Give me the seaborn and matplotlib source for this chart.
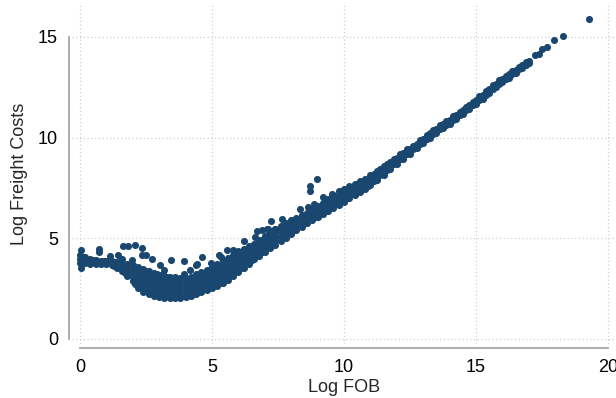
import matplotlib
matplotlib.use("Agg")
import matplotlib.pyplot as plt
import seaborn as sns
import pandas as pd

# ---- data (dense band as columns of points) ----
band_fob = [0.0, 0.2, 0.4, 0.6, 0.8, 1.0, 1.2, 1.4, 1.6, 1.8,
            2.0, 2.2, 2.4, 2.6, 2.8, 3.0, 3.2, 3.4, 3.6, 3.8,
            4.0, 4.2, 4.4, 4.6, 4.8, 5.0, 5.2, 5.4, 5.6, 5.8,
            6.0, 6.2, 6.4, 6.6, 6.8, 7.0, 7.2, 7.4, 7.6, 7.8,
            8.0, 8.2, 8.4, 8.6, 8.8, 9.0, 9.2, 9.4, 9.6, 9.8,
            10.0, 10.2, 10.4, 10.6, 10.8, 11.0, 11.25, 11.5, 11.75, 12.0,
            12.25, 12.5, 12.75, 13.0, 13.25, 13.5, 13.75, 14.0, 14.25, 14.5,
            14.75, 15.0, 15.25, 15.5, 15.75, 16.0, 16.25, 16.5, 16.75, 17.0]

band_freight = [
    [3.75, 3.95, 4.15], [3.75, 3.9, 4.05], [3.73, 3.85, 3.97], [3.72, 3.9], [3.71, 3.88],
    [3.7, 3.85], [3.65, 3.84], [3.5, 3.66, 3.82], [3.35, 3.55, 3.78], [3.1, 3.3, 3.5, 3.72],
    [2.85, 3.05, 3.25, 3.45, 3.65], [2.5, 2.7, 2.9, 3.1, 3.3, 3.55],
    [2.3, 2.5, 2.7, 2.9, 3.1, 3.3, 3.45], [2.2, 2.4, 2.6, 2.8, 3.0, 3.2, 3.35],
    [2.1, 2.3, 2.5, 2.7, 2.9, 3.1, 3.27], [2.07, 2.27, 2.47, 2.67, 2.87, 3.05, 3.15],
    [2.04, 2.24, 2.44, 2.64, 2.84, 3.0, 3.1], [2.0, 2.2, 2.4, 2.6, 2.8, 2.95, 3.07],
    [2.0, 2.2, 2.4, 2.6, 2.8, 3.05], [2.02, 2.22, 2.42, 2.62, 2.82, 3.02],
    [2.05, 2.25, 2.45, 2.65, 2.85, 3.0], [2.1, 2.3, 2.5, 2.7, 2.9, 3.08],
    [2.2, 2.4, 2.6, 2.8, 3.0, 3.2], [2.3, 2.5, 2.7, 2.9, 3.1, 3.3],
    [2.4, 2.6, 2.8, 3.0, 3.2, 3.42], [2.5, 2.7, 2.9, 3.1, 3.3, 3.55],
    [2.62, 2.82, 3.02, 3.22, 3.42, 3.7], [2.75, 2.95, 3.15, 3.35, 3.55, 3.85],
    [2.93, 3.13, 3.33, 3.53, 3.73, 4.0], [3.12, 3.32, 3.52, 3.72, 3.92, 4.18],
    [3.3, 3.5, 3.7, 3.9, 4.1, 4.35], [3.5, 3.7, 3.9, 4.1, 4.3, 4.45],
    [3.72, 3.92, 4.12, 4.32, 4.58], [3.95, 4.15, 4.35, 4.55, 4.7],
    [4.12, 4.32, 4.52, 4.72, 4.9], [4.3, 4.5, 4.7, 4.9, 5.08],
    [4.48, 4.68, 4.88, 5.08, 5.27], [4.65, 4.85, 5.05, 5.25, 5.45],
    [4.83, 5.03, 5.23, 5.43, 5.6], [5.02, 5.22, 5.42, 5.6, 5.75],
    [5.2, 5.4, 5.6, 5.75, 5.9], [5.38, 5.58, 5.78, 6.02],
    [5.55, 5.75, 5.95, 6.13], [5.73, 5.92, 6.1, 6.25],
    [5.88, 6.06, 6.24, 6.42], [6.05, 6.23, 6.41, 6.58],
    [6.2, 6.38, 6.56, 6.75], [6.35, 6.55, 6.75, 6.95],
    [6.5, 6.7, 6.9, 7.15], [6.65, 6.85, 7.05, 7.35],
    [6.8, 7.0, 7.2, 7.45], [6.97, 7.17, 7.37, 7.58],
    [7.13, 7.33, 7.52, 7.7], [7.3, 7.48, 7.65, 7.82],
    [7.45, 7.62, 7.78, 7.95], [7.65, 7.8, 7.97, 8.13],
    [7.9, 8.05, 8.2, 8.35], [8.15, 8.29, 8.43, 8.57],
    [8.42, 8.61, 8.8], [8.7, 8.85, 9.0],
    [8.95, 9.08, 9.22], [9.2, 9.33, 9.45],
    [9.47, 9.7], [9.73, 9.95], [9.98, 10.2], [10.22, 10.43], [10.45, 10.65],
    [10.68, 10.88], [10.92, 11.12], [11.15, 11.35], [11.4, 11.6], [11.65, 11.85],
    [11.92, 12.12], [12.2, 12.4], [12.5, 12.68], [12.75, 12.92], [12.98, 13.15],
    [13.22, 13.38], [13.45, 13.6], [13.7, 13.83],
]

# in-between columns that fill the gaps of the band
fill_fob = [0.1, 0.5, 0.9, 1.3, 1.7, 2.1, 2.5, 2.9, 3.3, 3.7,
            4.1, 4.5, 4.9, 5.3, 5.7, 6.1, 6.5, 6.9, 7.3, 7.7,
            8.1, 8.5, 8.9, 9.3, 9.7, 10.1, 10.5, 10.9, 11.125, 11.375,
            11.625, 11.875, 12.125, 12.375, 12.625, 12.875, 13.125, 13.375, 13.625, 13.875,
            14.125, 14.375, 14.625, 14.875, 15.125, 15.375, 15.625, 15.875, 16.125, 16.375,
            16.625, 16.875]
fill_freight = [
    [3.85, 4.05], [3.8, 3.92], [3.78, 3.86], [3.62, 3.8], [3.25, 3.45, 3.65],
    [2.7, 2.9, 3.1, 3.3, 3.5], [2.35, 2.55, 2.75, 2.95, 3.15, 3.35], [2.2, 2.4, 2.6, 2.8, 3.0, 3.2],
    [2.12, 2.32, 2.52, 2.72, 2.92, 3.05], [2.1, 2.3, 2.5, 2.7, 2.9],
    [2.17, 2.37, 2.57, 2.77, 2.95], [2.35, 2.55, 2.75, 2.95, 3.15], [2.55, 2.75, 2.95, 3.15, 3.4],
    [2.78, 2.98, 3.18, 3.38, 3.62], [3.12, 3.32, 3.52, 3.72, 3.95], [3.5, 3.7, 3.9, 4.1, 4.3],
    [3.93, 4.13, 4.33, 4.55], [4.3, 4.5, 4.7, 4.9], [4.66, 4.86, 5.06, 5.26],
    [5.02, 5.22, 5.42, 5.58], [5.38, 5.58, 5.78, 5.92], [5.73, 5.93, 6.1],
    [6.05, 6.22, 6.4], [6.36, 6.55, 6.75], [6.67, 6.87, 7.08], [6.98, 7.18, 7.4],
    [7.3, 7.5, 7.68], [7.6, 7.78, 7.95], [7.86, 8.02, 8.18], [8.12, 8.27, 8.42],
    [8.4, 8.55, 8.68], [8.67, 8.82, 8.95], [8.93, 9.05, 9.18], [9.18, 9.3, 9.42],
    [9.42, 9.6], [9.68, 9.88], [9.93, 10.12], [10.17, 10.37], [10.4, 10.6],
    [10.63, 10.83], [10.87, 11.05], [11.1, 11.28], [11.35, 11.53], [11.6, 11.78],
    [11.86, 12.05], [12.12, 12.32], [12.42, 12.6], [12.68, 12.85], [12.92, 13.08],
    [13.15, 13.3], [13.4, 13.53], [13.63, 13.75],
]

scatter_fob = [0.03, 0.03, 0.73, 0.73, 1.14, 1.45, 1.6, 1.64, 1.83, 1.98,
               2.09, 2.34, 2.36, 2.52, 2.72, 3.03, 3.16, 3.2, 3.45, 3.95,
               3.95, 4.17, 4.38, 4.42, 4.62, 4.96, 5.28, 5.34, 5.56, 5.81,
               6.22, 6.63, 6.7, 6.88, 7.07, 7.14, 7.24, 7.39, 7.64, 8.33,
               8.65, 8.7, 8.71, 8.88, 8.97, 9.22, 9.53,
               17.25, 17.4, 17.5, 17.7, 17.95, 18.3, 19.27]
scatter_freight = [4.42, 3.51, 4.47, 4.3, 4.1, 4.17, 3.97, 4.58, 4.6, 3.92,
                   4.65, 4.52, 4.14, 4.14, 3.97, 3.64, 3.23, 3.43, 3.9, 3.87,
                   3.23, 3.43, 3.64, 3.7, 4.08, 3.76, 4.14, 4.05, 4.43, 4.39,
                   4.85, 5.05, 5.33, 5.38, 5.46, 5.46, 5.87, 5.46, 5.96, 6.42,
                   6.53, 7.36, 7.6, 6.7, 7.92, 7.03, 7.2,
                   14.08, 14.13, 14.4, 14.5, 14.87, 15.07, 15.9]

# ---- assemble ----
xs, ys = [], []
for cols_x, cols_y in ((band_fob, band_freight), (fill_fob, fill_freight)):
    for fx, col in zip(cols_x, cols_y):
        for fy in col:
            xs.append(fx)
            ys.append(fy)
xs += scatter_fob
ys += scatter_freight
df = pd.DataFrame({"Log FOB": xs, "Log Freight Costs": ys})

sns.set_style("white")
plt.rcParams["font.family"] = ["Liberation Sans", "DejaVu Sans"]

fig = plt.figure(figsize=(6.16, 3.98), dpi=100)
ax = fig.add_axes([72 / 616, 1 - 344 / 398, (616 - 72) / 616, (344 - 3) / 398])

sns.scatterplot(data=df, x="Log FOB", y="Log Freight Costs", ax=ax,
                color="#1a476f", s=26, linewidth=0, alpha=1.0, zorder=3)

ax.set_xlim(-0.3, 20.3)
ax.set_ylim(-0.27, 16.69)
ax.set_xticks([0, 5, 10, 15, 20])
ax.set_yticks([0, 5, 10, 15])

ax.grid(True, color="#cfcfcf", linestyle=(0, (1, 2)), linewidth=0.9, zorder=0)
ax.set_axisbelow(True)

for side in ["top", "right"]:
    ax.spines[side].set_visible(False)
spine_col = "#a6a6a6"
ax.spines["left"].set_position(("outward", 2))
ax.spines["bottom"].set_position(("outward", 3))
ax.spines["left"].set_bounds(0, 15)
ax.spines["bottom"].set_bounds(0, 20)
for side in ["left", "bottom"]:
    ax.spines[side].set_color(spine_col)
    ax.spines[side].set_linewidth(1.3)

ax.tick_params(axis="both", which="major", direction="out", length=5,
               width=1.1, color=spine_col, labelsize=13, labelcolor="black", pad=3)

ax.set_xlabel("Log FOB", fontsize=13, labelpad=2)
ax.set_ylabel("Log Freight Costs", fontsize=13, labelpad=7)

fig.savefig("out.png", dpi=100)
